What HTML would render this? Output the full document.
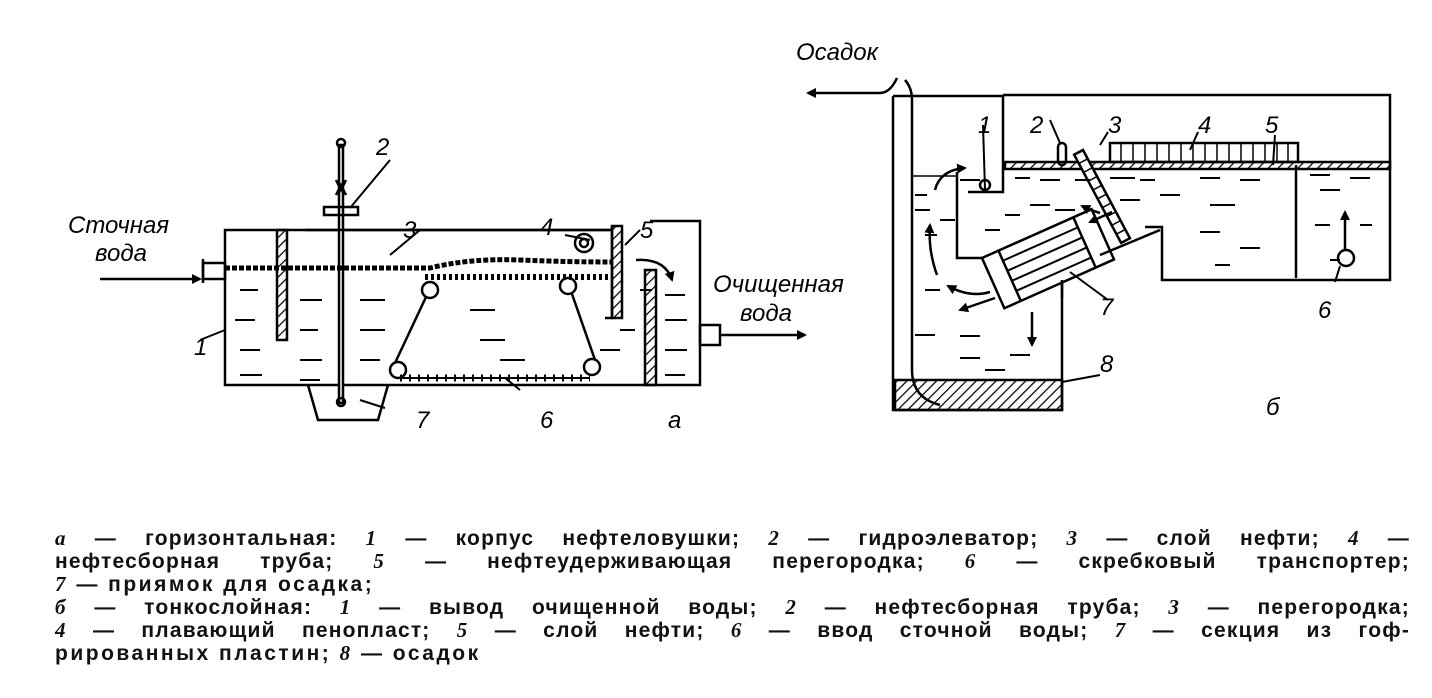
<!DOCTYPE html>
<html><head><meta charset="utf-8"><style>
body{margin:0;width:1432px;height:698px;background:#fff;overflow:hidden;position:relative}
svg{position:absolute;left:0;top:0}
.cap{position:absolute;left:55px;width:1355px;font-family:"Liberation Sans",sans-serif;font-size:21px;font-weight:bold;color:#111;white-space:nowrap;letter-spacing:1.2px;line-height:22px}
.j{text-align:justify;text-align-last:justify;white-space:normal}
i{font-family:"Liberation Serif",serif}
</style></head><body>
<svg width="1432" height="698" viewBox="0 0 1432 698" font-family="Liberation Sans, sans-serif" font-style="italic" fill="none" stroke="#000">
<defs>
<pattern id="h" width="7" height="7" patternUnits="userSpaceOnUse" patternTransform="rotate(45)"><line x1="0" y1="0" x2="0" y2="7" stroke="#000" stroke-width="2.5"/></pattern>
<marker id="a" markerWidth="10" markerHeight="10" refX="8" refY="5" orient="auto" markerUnits="userSpaceOnUse"><path d="M0,0 L10,5 L0,10z" fill="#000" stroke="none"/></marker>
</defs>
<!-- LEFT DIAGRAM -->
<g stroke-width="2.5">
<path d="M225,268 V385 H700 V221 H650"/>
<path d="M225,268 V230 H612"/>
<path d="M308,385 L318,420 H378 L388,385"/>
<rect x="203" y="263" width="22" height="16"/>
<line x1="203" y1="259" x2="203" y2="283"/>
<line x1="100" y1="279" x2="200" y2="279" marker-end="url(#a)"/>
<rect x="277" y="230" width="10" height="110" fill="url(#h)"/>
<rect x="339" y="145" width="4" height="258" fill="#fff"/>
<circle cx="341" cy="143" r="4"/>
<circle cx="341" cy="402" r="4"/>
<rect x="324" y="207" width="34" height="8"/>
<path d="M336,180 L341,190 L346,180 M336,195 L341,185 L346,195"/>
<path d="M225,268 H430 Q470,258 520,260 Q570,262 612,262" stroke-width="5" stroke-dasharray="5 2"/>
<path d="M425,277 H610" stroke-width="6" stroke-dasharray="3 3"/>
<circle cx="430" cy="290" r="8"/><circle cx="568" cy="286" r="8"/>
<circle cx="398" cy="370" r="8"/><circle cx="592" cy="367" r="8"/>
<line x1="426" y1="297" x2="395" y2="363"/><line x1="572" y1="294" x2="595" y2="360"/>
<path d="M400,378 H590" stroke-width="2"/>
<path d="M400,378 H590" stroke-width="7" stroke-dasharray="2 7"/>
<circle cx="584" cy="243" r="9"/><circle cx="584" cy="243" r="4"/>
<path d="M612,226 V318 H605" stroke-width="2.5"/>
<rect x="612" y="226" width="10" height="92" fill="url(#h)"/>
<rect x="645" y="270" width="11" height="115" fill="url(#h)"/>
<path d="M636,260 Q665,258 672,280" marker-end="url(#a)"/>
<rect x="700" y="325" width="20" height="20"/>
<line x1="720" y1="335" x2="805" y2="335" marker-end="url(#a)"/>
<line x1="305" y1="230" x2="612" y2="230"/>
<g stroke-width="2">
<path d="M240,290h18M235,320h20M300,300h22M300,330h18M240,350h20M300,360h22M240,375h22M300,380h20M360,300h25M360,330h25M360,360h20M470,310h25M480,340h25M500,360h25M640,290h12M665,295h20M665,320h22M665,350h22M665,375h20M620,330h15M600,350h20"/>
<path d="M350,208 L390,160 M420,230 L390,255 M565,235 L590,240 M625,245 L640,230 M200,340 L225,330 M360,400 L385,408 M505,378 L520,390"/>
</g>
</g>
<g fill="#000" stroke="none" font-size="24">
<text x="68" y="233">Сточная</text><text x="95" y="261">вода</text>
<text x="713" y="292">Очищенная</text><text x="740" y="321">вода</text>
<text x="376" y="155">2</text><text x="403" y="238">3</text><text x="540" y="235">4</text><text x="640" y="238">5</text>
<text x="194" y="355">1</text><text x="416" y="428">7</text><text x="540" y="428">6</text><text x="668" y="428">a</text>
</g>
<!-- RIGHT DIAGRAM -->
<g stroke-width="2.5">
<path d="M893,96 H1003 M1003,96 V192 H968 M893,96 V410 H1062 V282"/>
<path d="M1003,95 H1390 V280 H1162 V227 H1145"/>
<line x1="1296" y1="165" x2="1296" y2="278"/>
<path d="M957,172 V258 H985"/>
<line x1="912" y1="176" x2="957" y2="176" stroke-width="1.5"/>
<rect x="1005" y="162" width="385" height="7" fill="url(#h)"/>
<rect x="1110" y="143" width="188" height="19"/>
<path d="M1121,143v19M1133,143v19M1145,143v19M1157,143v19M1169,143v19M1181,143v19M1193,143v19M1205,143v19M1217,143v19M1229,143v19M1241,143v19M1253,143v19M1265,143v19M1277,143v19M1288,143v19" stroke-width="1.5"/>
<rect x="1058" y="143" width="8" height="22" rx="4"/>
<circle cx="985" cy="185" r="5"/>
<g transform="translate(982,258) rotate(-24)">
<rect x="0" y="0" width="120" height="55" fill="#fff"/>
<line x1="18" y1="0" x2="18" y2="55"/><line x1="100" y1="0" x2="100" y2="55"/>
<path d="M18,11H100M18,22H100M18,33H100M18,44H100" stroke-width="2"/>
</g>
<g transform="translate(1083,150) rotate(62)">
<rect x="0" y="0" width="100" height="10" fill="#fff"/>
<path d="M10,0v10M20,0v10M30,0v10M40,0v10M50,0v10M60,0v10M70,0v10M80,0v10M90,0v10" stroke-width="1.5"/>
</g>
<line x1="1062" y1="280" x2="1062" y2="298"/>
<path d="M1100,255 L1160,230"/>
<path d="M895,380 H1062 V410 H895z" fill="url(#h)"/>
<path d="M905,80 Q912,88 912,100 V370 Q912,398 940,405" stroke-width="2.5"/>
<path d="M897,78 Q890,93 880,93 H808" marker-end="url(#a)"/>
<path d="M935,190 Q940,170 965,168" marker-end="url(#a)"/>
<path d="M937,275 Q928,250 930,225" marker-end="url(#a)"/>
<path d="M990,292 Q970,298 948,286" marker-end="url(#a)"/>
<path d="M995,298 L960,310" marker-end="url(#a)"/>
<path d="M1032,312 V345" marker-end="url(#a)"/>
<path d="M1100,213 Q1090,210 1082,206" marker-end="url(#a)"/>
<path d="M1112,212 L1090,222" marker-end="url(#a)"/>
<line x1="1345" y1="250" x2="1345" y2="212" marker-end="url(#a)"/>
<circle cx="1346" cy="258" r="8"/>
<g stroke-width="2">
<path d="M915,195h12M915,210h15M940,220h15M925,235h12M960,180h20M1015,178h15M1040,180h20M1075,180h15M1110,178h25M1140,180h15M1200,178h20M1240,180h20M1030,205h20M1055,210h20M1120,200h20M1160,195h20M1210,205h25M1200,232h20M1240,248h20M1215,265h15M1310,175h20M1350,178h20M1320,190h20M1315,225h15M1360,225h12M1330,260h10M1005,215h15M985,230h15M925,290h15M915,335h20M960,336h20M1010,355h20M960,358h20M985,370h20"/>
<path d="M985,190 L983,125 M1060,143 L1050,120 M1100,145 L1108,132 M1190,150 L1198,132 M1273,165 L1275,135 M1070,272 L1108,300 M1062,382 L1100,375 M1340,266 L1335,282"/>
</g>
</g>
<g fill="#000" stroke="none" font-size="24">
<text x="796" y="60">Осадок</text>
<text x="978" y="133">1</text><text x="1030" y="133">2</text><text x="1108" y="133">3</text><text x="1198" y="133">4</text><text x="1265" y="133">5</text>
<text x="1100" y="315">7</text><text x="1100" y="372">8</text><text x="1318" y="318">6</text><text x="1266" y="415">б</text>
</g>
</svg>
<div class="cap j" style="top:527px"><i>а</i> — горизонтальная: <i>1</i> — корпус нефтеловушки; <i>2</i> — гидроэлеватор; <i>3</i> — слой нефти; <i>4</i> —</div>
<div class="cap j" style="top:550px">нефтесборная труба; <i>5</i> — нефтеудерживающая перегородка; <i>6</i> — скребковый транспортер;</div>
<div class="cap" style="top:573px;letter-spacing:2.5px"><i>7</i> — приямок для осадка;</div>
<div class="cap j" style="top:596px"><i>б</i> — тонкослойная: <i>1</i> — вывод очищенной воды; <i>2</i> — нефтесборная труба; <i>3</i> — перегородка;</div>
<div class="cap j" style="top:619px"><i>4</i> — плавающий пенопласт; <i>5</i> — слой нефти; <i>6</i> — ввод сточной воды; <i>7</i> — секция из гоф-</div>
<div class="cap" style="top:642px;letter-spacing:2.5px">рированных пластин; <i>8</i> — осадок</div>
</body></html>
